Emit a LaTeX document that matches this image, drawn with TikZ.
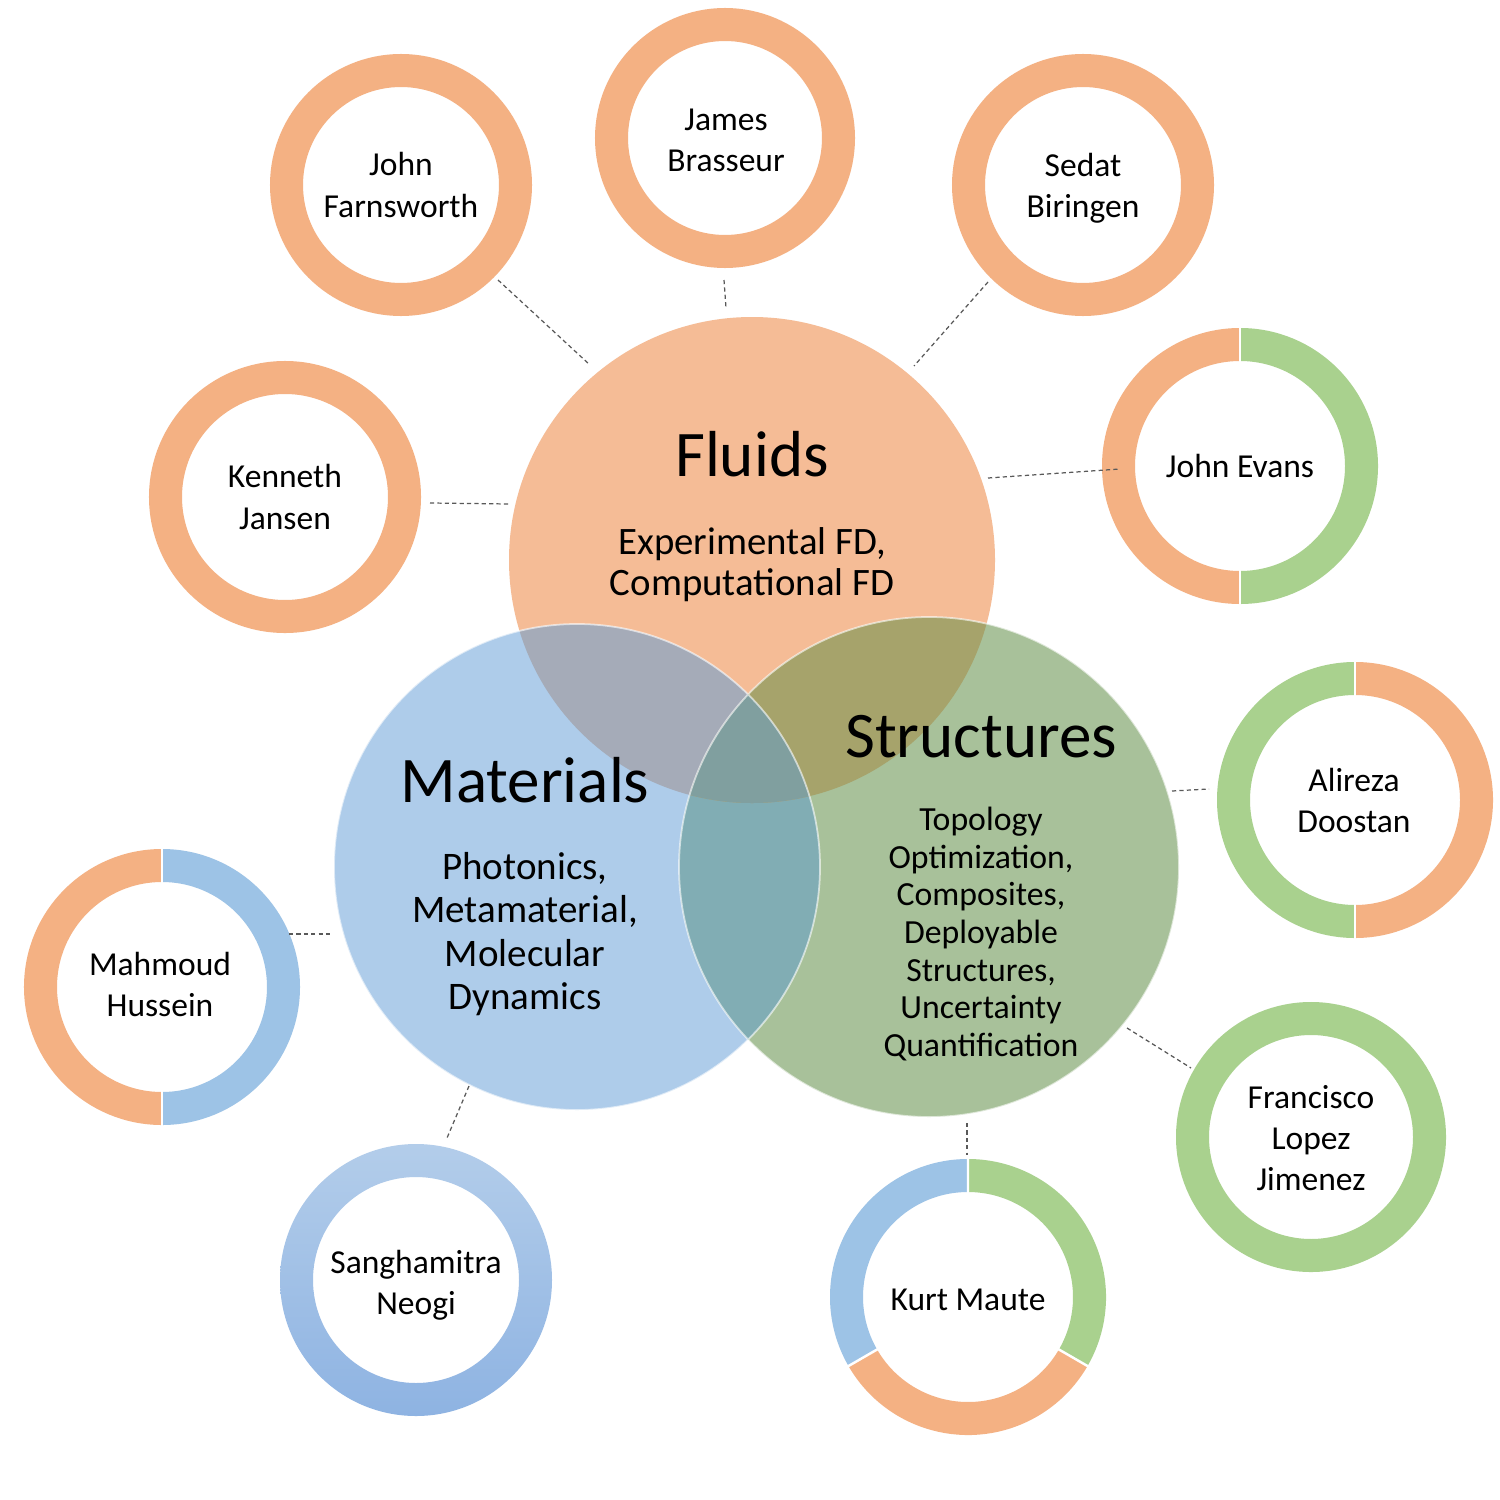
\documentclass[tikz,border=0pt]{standalone}
\usepackage{fontspec}
\setmainfont{Carlito}
\usetikzlibrary{calc}
\definecolor{orng}{HTML}{F4B183}
\definecolor{grn}{HTML}{A9D18E}
\definecolor{blu}{HTML}{9DC3E6}
\definecolor{blutop}{HTML}{B3CDEA}
\definecolor{blubot}{HTML}{8EB3E2}
\definecolor{fluidc}{HTML}{F5BC96}
\definecolor{matc}{HTML}{AECCEA}
\definecolor{strc}{HTML}{A8C19A}
\definecolor{fmc}{HTML}{A5ABB8}
\definecolor{fsc}{HTML}{A6A36B}
\definecolor{msc}{HTML}{81ADB4}
\definecolor{fmsc}{HTML}{809F9F}
\begin{document}
\begin{tikzpicture}[x=0.01cm,y=0.01cm,
  ringline/.style={line width=0.33cm},
  sepline/.style={white, line width=0.7pt},
  conn/.style={draw=black!65, line width=0.35pt, dash pattern=on 1.2pt off 0.9pt},
  nametext/.style={align=center, font=\fontsize{9.53}{11.67}\selectfont, text=black, inner sep=0pt},
  titletext/.style={font=\fontsize{18.5}{22}\selectfont, text=black, inner sep=0pt},
  subF/.style={align=center, font=\fontsize{11.04}{11.7}\selectfont, text=black, inner sep=0pt},
  subM/.style={align=center, font=\fontsize{11.1}{12.35}\selectfont, text=black, inner sep=0pt},
  subS/.style={align=center, font=\fontsize{9.6}{10.73}\selectfont, text=black, inner sep=0pt},
]
\useasboundingbox (0,0) rectangle (1500,-1500);
\fill[white] (0,0) rectangle (1500,-1500);

% centres
\coordinate (F) at (752,-560);
\coordinate (M) at (577,-867);
\coordinate (S) at (929,-867);
\coordinate (farn) at (401,-185);
\coordinate (bras) at (725,-138);
\coordinate (biri) at (1083,-185);
\coordinate (jans) at (285,-497);
\coordinate (evan) at (1240,-466);
\coordinate (doos) at (1355,-800);
\coordinate (huss) at (162,-987);
\coordinate (neog) at (416,-1280);
\coordinate (maut) at (968,-1297);
\coordinate (fran) at (1311,-1137);

% main Venn circles
\fill[fluidc] (F) circle (243);
\fill[matc] (M) circle (243);
\fill[strc] (S) circle (250);
\begin{scope}
  \clip (M) circle (243);
  \fill[msc] (S) circle (250);
\end{scope}
\begin{scope}
  \clip (F) circle (243);
  \fill[fmc] (M) circle (243);
  \fill[fsc] (S) circle (250);
  \clip (M) circle (243);
  \fill[fmsc] (S) circle (250);
\end{scope}
\draw[white, line width=0.5pt, opacity=0.6] (M) circle (243) (S) circle (250);

% single-colour rings
\draw[ringline, orng] (farn) circle (114.5);
\draw[ringline, orng] (bras) circle (113.5);
\draw[ringline, orng] (biri) circle (114.5);
\draw[ringline, orng] (jans) circle (119.5);
\draw[ringline, grn] (fran) circle (118.5);
\shade[even odd rule, top color=blutop, bottom color=blubot] (neog) circle (136) (neog) circle (103);

% split rings
\draw[ringline, orng] ($(evan)+(90:121.5)$) arc[start angle=90, end angle=270, radius=121.5];
\draw[ringline, grn] ($(evan)+(-90:121.5)$) arc[start angle=-90, end angle=90, radius=121.5];
\draw[sepline] ($(evan)+(90:103)$) -- ($(evan)+(90:140)$) ($(evan)+(-90:103)$) -- ($(evan)+(-90:140)$);

\draw[ringline, grn] ($(doos)+(90:121.5)$) arc[start angle=90, end angle=270, radius=121.5];
\draw[ringline, orng] ($(doos)+(-90:121.5)$) arc[start angle=-90, end angle=90, radius=121.5];
\draw[sepline] ($(doos)+(90:103)$) -- ($(doos)+(90:140)$) ($(doos)+(-90:103)$) -- ($(doos)+(-90:140)$);

\draw[ringline, orng] ($(huss)+(90:121.5)$) arc[start angle=90, end angle=270, radius=121.5];
\draw[ringline, blu] ($(huss)+(-90:121.5)$) arc[start angle=-90, end angle=90, radius=121.5];
\draw[sepline] ($(huss)+(90:103)$) -- ($(huss)+(90:140)$) ($(huss)+(-90:103)$) -- ($(huss)+(-90:140)$);

\draw[ringline, grn] ($(maut)+(-30:121.5)$) arc[start angle=-30, end angle=90, radius=121.5];
\draw[ringline, orng] ($(maut)+(-150:121.5)$) arc[start angle=-150, end angle=-30, radius=121.5];
\draw[ringline, blu] ($(maut)+(90:121.5)$) arc[start angle=90, end angle=210, radius=121.5];
\draw[sepline] ($(maut)+(90:103)$) -- ($(maut)+(90:140)$) ($(maut)+(-30:103)$) -- ($(maut)+(-30:140)$) ($(maut)+(-150:103)$) -- ($(maut)+(-150:140)$);

% connectors
\coordinate (c1a) at (498,-280); \coordinate (c1b) at (590,-365);
\coordinate (c2a) at (724,-280); \coordinate (c2b) at (726,-308);
\coordinate (c3a) at (988,-282); \coordinate (c3b) at (914,-366);
\coordinate (c4a) at (430,-503); \coordinate (c4b) at (509,-504);
\coordinate (c5a) at (988,-478); \coordinate (c5b) at (1120,-469);
\coordinate (c6a) at (1172,-791); \coordinate (c6b) at (1209,-789);
\coordinate (c7a) at (289,-934); \coordinate (c7b) at (332,-934);
\coordinate (c8a) at (469,-1086); \coordinate (c8b) at (447,-1138);
\coordinate (c9a) at (967,-1123); \coordinate (c9b) at (967,-1155);
\coordinate (c10a) at (1127,-1028); \coordinate (c10b) at (1191,-1068);
\foreach \i in {1,...,10} {\draw[conn] (c\i a) -- (c\i b);}

% main texts
\node[titletext] (fluT) at (752,-454) {Fluids};
\node[subF] (fluS) at (752,-565) {Experimental FD,\\Computational FD};
\node[titletext] (matT) at (525,-780) {Materials};
\node[subM] (matS) at (525,-934) {Photonics,\\Metamaterial,\\Molecular\\Dynamics};
\node[titletext] (strT) at (981,-737) {Structures};
\node[subS] (strS) at (981,-934) {Topology\\Optimization,\\Composites,\\Deployable\\Structures,\\Uncertainty\\Quantification};

% names
\node[nametext] (farnT) at (401,-185) {John\\Farnsworth};
\node[nametext] (brasT) at (726,-140) {James\\Brasseur};
\node[nametext] (biriT) at (1083,-188) {Sedat\\Biringen};
\node[nametext] (jansT) at (285,-497) {Kenneth\\Jansen};
\node[nametext] (evanT) at (1240,-466) {John Evans};
\node[nametext] (doosT) at (1354,-800) {Alireza\\Doostan};
\node[nametext] (hussT) at (160,-984) {Mahmoud\\Hussein};
\node[nametext] (neogT) at (416,-1285) {Sanghamitra\\Neogi};
\node[nametext] (mautT) at (968,-1300) {Kurt Maute};
\node[nametext] (franT) at (1311,-1138) {Francisco\\Lopez\\Jimenez};
\end{tikzpicture}
\end{document}
